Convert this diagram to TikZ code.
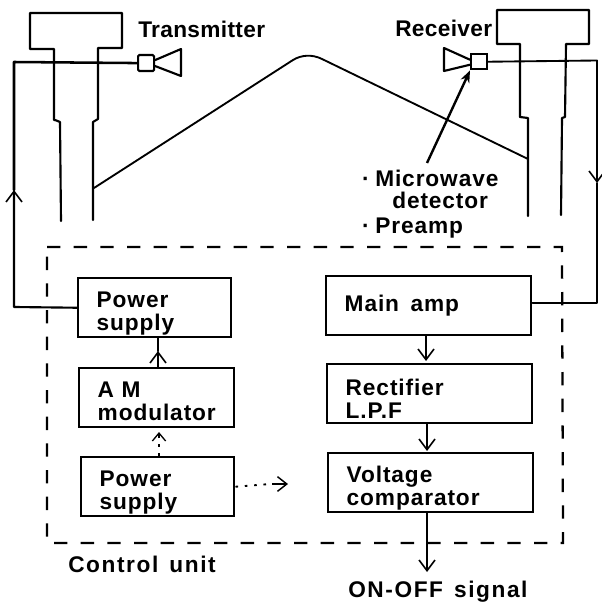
\documentclass[tikz,border=0pt]{standalone}
\usepackage{fontspec}
\setmainfont[LetterSpace=4]{Liberation Sans}
\newfontfamily\widefont[LetterSpace=7,WordSpace=1.4]{Liberation Sans}
\newfontfamily\tightfont[LetterSpace=1.5]{Liberation Sans}
\newcommand{\lowerfirst}{\rule{0pt}{20pt}}
\usetikzlibrary{arrows.meta,calc}
\tikzset{
  x=0.75pt,y=-0.75pt,
  every node/.style={font=\bfseries\fontsize{17}{17.25}\selectfont,inner sep=0pt},
  blockbox/.style={draw,line width=1.6pt,minimum height=44.5pt,inner xsep=14pt,align=left,anchor=north west},
  ln/.style={line width=1.6pt,line cap=round,line join=round},
  thin ln/.style={line width=1.4pt,line cap=round,line join=round},
  barb/.style={-{Straight Barb[length=8pt,width=12pt,line width=1.2pt]}},
  dash box/.style={line width=1.7pt,dash pattern=on 10pt off 10pt},
  dots/.style={line width=1.4pt,dash pattern=on 2pt off 5pt}
}
\begin{document}
\begin{tikzpicture}
\useasboundingbox (0,0) rectangle (601,602);
% control unit frame
\coordinate (f1) at (47,247);
\coordinate (f2) at (562,247);
\coordinate (f3) at (563,543);
\coordinate (f4) at (47,543);
\draw[dash box] (f1) -- (f2) -- (f3) -- (f4) -- cycle;
% blocks
\node[blockbox,text width=87pt] (ps1) at (77,277) {\lowerfirst Power\\supply};
\node[blockbox,text width=88pt] (am) at (78,367) {\rule{0pt}{17pt}A M\\modulator};
\node[blockbox,text width=87pt] (ps2) at (80,456) {\lowerfirst Power\\supply};
\node[blockbox,text width=126pt] (main) at (325,275) {Main\hspace{3pt} amp};
\node[blockbox,text width=126pt] (rect) at (326,363) {\lowerfirst Rectifier\\L.P.F};
\node[blockbox,text width=126pt] (volt) at (327,452) {\lowerfirst Voltage\\comparator};
% labels
\node[anchor=base west,font=\bfseries\fontsize{17}{17.25}\tightfont] (tx) at (138,38) {Transmitter};
\node[anchor=base west,font=\bfseries\fontsize{17}{17.25}\tightfont] (rx) at (395,37) {Receiver};
\node[anchor=base west] (mw) at (375,186) {Microwave};
\node[anchor=base west] (det) at (392,209) {detector};
\node[anchor=base west] (pre) at (375,233) {Preamp};
\node[anchor=base] (dot1) at (366,186) {\textperiodcentered};
\node[anchor=base] (dot2) at (366,233) {\textperiodcentered};
\node[anchor=base west,font=\bfseries\fontsize{17}{17.25}\widefont] (cu) at (68,572) {Control unit};
\node[anchor=base west,font=\bfseries\fontsize{17}{17.25}\widefont] (onoff) at (348,597) {ON-OFF signal};
% towers
\draw[ln] (55,120) -- (54,120) -- (54,49) -- (30,49) -- (30,13) -- (122,13) -- (122,48) -- (98,48) -- (98,119) -- (93,122) -- (93,220);
\draw[ln] (55,120) -- (60,122) -- (61,221);
\draw[ln] (520,117) -- (520,44) -- (497,44) -- (497,10) -- (589,10) -- (589,44) -- (566,44) -- (565,117) -- (562,118) -- (561,215);
\draw[ln] (520,117) -- (528,118) -- (528,216);
% transmitter horn
\node[draw,line width=1.6pt,minimum width=12pt,minimum height=12pt,rounded corners=1pt,anchor=north west] (txbox) at (137,54) {};
\coordinate (th1) at (181,49);
\coordinate (th2) at (181,76);
\draw[ln] ($(txbox.east)+(0,-3)$) -- (th1) -- (th2) -- ($(txbox.east)+(0,3)$);
% receiver horn
\node[draw,line width=1.6pt,minimum width=12pt,minimum height=11.5pt,anchor=north west] (rxbox) at (470,53) {};
\coordinate (rh1) at (444,48);
\coordinate (rh2) at (444,71);
\draw[ln] ($(rxbox.west)+(0,-2)$) -- (rh1) -- (rh2) -- ($(rxbox.west)+(0,3)$);
% waveguide cable
\coordinate (c1) at (94,188);
\coordinate (c2) at (528,159);
\draw[thin ln] (c1) -- (293,60) .. controls (301,55) and (312,54) .. (322,59) -- (c2);
% transmitter wire
\coordinate (w1) at (14,62);
\coordinate (w2) at (14,190);
\draw[ln,line width=1.9pt] (txbox.west) -- (w1) -- (w2);
\draw[ln,barb] (ps1.west) -- (14,307) -- (w2);
% receiver wire
\coordinate (w3) at (597,60.5);
\coordinate (w4) at (597,183);
\coordinate (w5) at (597,303);
\draw[thin ln,barb] (rxbox.east) -- (w3) -- (w4);
\draw[thin ln] (w4) -- (w5) -- (main.east |- w5);
% microwave pointer
\coordinate (mp) at (427,163);
\draw[line width=1.8pt,-{Stealth[length=9pt,width=7pt]}] (mp) -- (rxbox.south west);
% block connectors
\coordinate (a1) at (158,351);
\draw[ln,barb] (158,367) -- (a1);
\draw[ln] (a1) -- (158,338);
\coordinate (a2) at (159,432);
\draw[dots] (159,456) -- (159,434);
\draw[line width=1pt,-{Straight Barb[length=6pt,width=10pt,line width=1pt]}] (159,438) -- (a2);
\coordinate (a3) at (288,484);
\draw[dots] (ps2.east) -- (270,484);
\draw[line width=1.1pt,-{Straight Barb[length=7pt,width=11pt,line width=1.1pt]}] (272,484) -- (a3);
\draw[thin ln,barb] (main.south -| 426,0) -- (426,361);
\draw[thin ln,barb] (rect.south -| 427,0) -- (427,451);
\draw[thin ln,barb] (volt.south -| 427,0) -- (427,572);
\end{tikzpicture}
\end{document}
